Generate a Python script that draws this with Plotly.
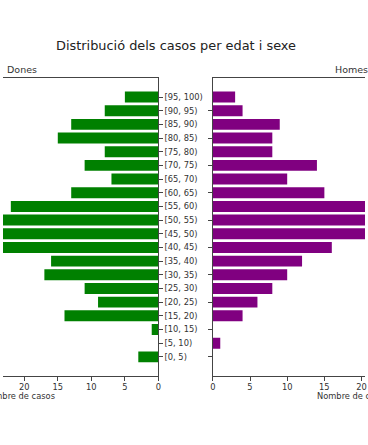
import plotly.graph_objects as go

# Age groups (bottom to top)
age_groups = ["[0, 5)", "[5, 10)", "[10, 15)", "[15, 20)", "[20, 25)", "[25, 30)",
              "[30, 35)", "[35, 40)", "[40, 45)", "[45, 50)", "[50, 55)", "[55, 60)",
              "[60, 65)", "[65, 70)", "[70, 75)", "[75, 80)", "[80, 85)", "[85, 90)",
              "[90, 95)", "[95, 100)"]

# Cases by sex (bars running off the cropped edge are estimates)
dones = [3, 0, 1, 14, 9, 11, 17, 16, 32, 39, 29, 22, 13, 7, 11, 8, 15, 13, 8, 5]
homes = [0, 1, 0, 4, 6, 8, 10, 12, 16, 27, 35, 24, 15, 10, 14, 8, 8, 9, 4, 3]

x_ticks = [0, 5, 10, 15, 20]

W, H = 368, 445
FONT = "DejaVu Sans"
TXT = "#333333"
SPINE = "#444444"

def px(x):
    return x / W

def py(y):
    return 1 - y / H

fig = go.Figure()
fig.add_trace(go.Bar(y=age_groups, x=dones, orientation="h", width=0.8,
                     marker=dict(color="green", line=dict(width=0)),
                     xaxis="x", yaxis="y", showlegend=False))
fig.add_trace(go.Bar(y=age_groups, x=homes, orientation="h", width=0.8,
                     marker=dict(color="purple", line=dict(width=0)),
                     xaxis="x2", yaxis="y2", showlegend=False))

ydom = [py(376), py(78)]
yrange = [-1.40, 20.39]

common_x = dict(tickvals=x_ticks, ticks="outside", ticklen=3.5, tickwidth=1,
                tickcolor=SPINE, showline=True, linecolor=SPINE, linewidth=1,
                mirror=True, showgrid=False, zeroline=False,
                tickfont=dict(family=FONT, size=8.3, color=TXT))
common_y = dict(type="category", categoryorder="array", categoryarray=age_groups,
                range=yrange, domain=ydom, ticks="outside", ticklen=3.5,
                tickwidth=1, tickcolor=SPINE, showline=True, linecolor=SPINE,
                linewidth=1, showgrid=False, zeroline=False,
                tickfont=dict(family=FONT, size=8.3, color=TXT))

fig.update_layout(
    width=W, height=H,
    margin=dict(l=0, r=0, t=0, b=0),
    paper_bgcolor="white", plot_bgcolor="white",
    font=dict(family=FONT, color=TXT),
    xaxis=dict(domain=[0, px(158)], range=[158 / 6.82, 0], anchor="y", **common_x),
    xaxis2=dict(domain=[px(213.3), 1], range=[0, (W - 213.3) / 7.56], anchor="y2", **common_x),
    yaxis=dict(anchor="x", side="right", showticklabels=True, **common_y),
    yaxis2=dict(anchor="x2", side="left", showticklabels=False, **common_y),
    title=dict(text="Distribució dels casos per edat i sexe", x=px(176), xanchor="center",
               y=py(45), yanchor="middle", yref="container",
               font=dict(family=FONT, size=12.9, color="#222222")),
    bargap=0.2,
)

ann = [
    dict(text="Dones", x=px(2), y=py(70), xanchor="left", yanchor="middle", size=9.5),
    dict(text="Homes", x=px(335), y=py(69), xanchor="left", yanchor="middle", size=9.5),
    dict(text="Nombre de casos", x=px(54.5), y=py(396), xanchor="right", yanchor="middle", size=8.3),
    dict(text="Nombre de casos", x=px(316.7), y=py(396), xanchor="left", yanchor="middle", size=8.3),
]
for a in ann:
    fig.add_annotation(text=a["text"], x=a["x"], y=a["y"], xref="paper", yref="paper",
                       xanchor=a["xanchor"], yanchor=a["yanchor"], showarrow=False,
                       font=dict(family=FONT, size=a["size"], color=TXT))

fig.write_html(
    "out.html",
    config={"displayModeBar": False},
    post_script="document.body.style.margin='0';document.body.style.overflow='hidden';",
)
